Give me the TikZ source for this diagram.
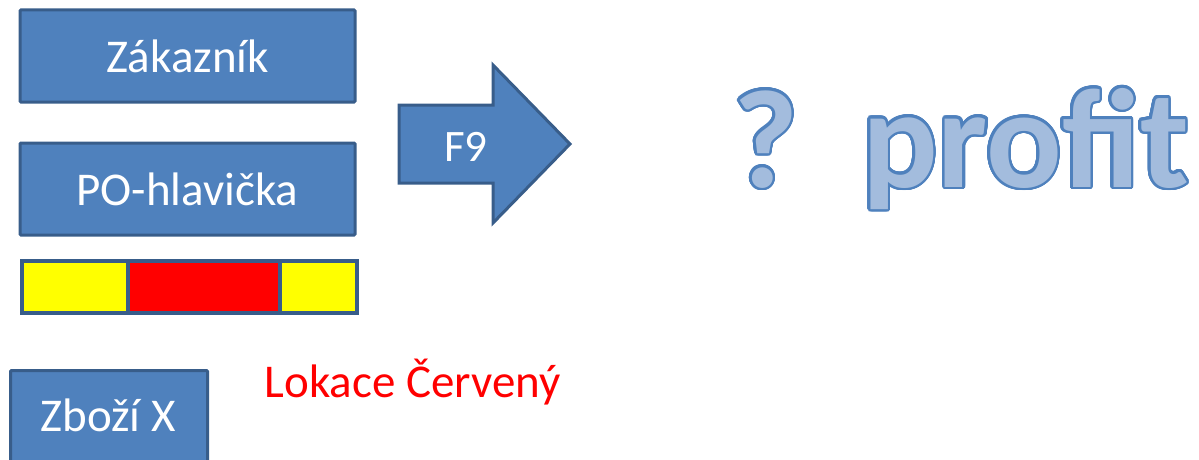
\documentclass[tikz,border=0pt]{standalone}
\usepackage{fontspec}
\usepackage[copies]{contour}
\setmainfont{Carlito}
\definecolor{boxfill}{HTML}{4F81BD}
\definecolor{boxline}{HTML}{385D8A}
\definecolor{lightfill}{HTML}{A3BCDD}
\definecolor{outl}{HTML}{4F81BD}
\definecolor{myyellow}{HTML}{FFFF00}
\definecolor{myred}{HTML}{FF0000}
\contourlength{2.6pt}
\contournumber{32}
\tikzset{
  bluebox/.style={draw=boxline, fill=boxfill, line width=3pt, rounded corners=1pt,
    text=white, font=\fontsize{47}{56}\selectfont, inner sep=0pt},
  barseg/.style={draw=boxline, line width=3.5pt, inner sep=0pt},
  bigword/.style={font=\fontsize{140}{160}\bfseries\selectfont, anchor=base west, inner sep=0pt, text=lightfill},
}
\begin{document}
\begin{tikzpicture}[x=1pt,y=-1pt]
\useasboundingbox (0,0) rectangle (1199,460);
\begin{scope}
\clip (0,0) rectangle (1199,460);
\node[bluebox, minimum width=335pt, minimum height=92pt] (zak) at (187.5,56) {Zákazník};
\node[bluebox, minimum width=335pt, minimum height=92pt] (po) at (187.5,189) {PO-hlavička};
\node[barseg, fill=myyellow, minimum width=106pt, minimum height=52pt, anchor=north west] (y1) at (20,259) {};
\node[barseg, fill=myyellow, minimum width=77pt, minimum height=52pt, anchor=north west] (y2) at (278,259) {};
\node[barseg, fill=myred, minimum width=152pt, minimum height=52pt, anchor=north west] (r1) at (126,259) {};
\node[bluebox, minimum width=197pt, minimum height=110pt, anchor=north west] (zbozi) at (9,369) {};
\node[text=white, font=\fontsize{47}{56}\selectfont] (zbozit) at (108,415) {Zboží X};
\draw[draw=boxline, fill=boxfill, line width=3pt, line join=miter]
  (399,105) -- (493,105) -- (493,65) -- (570,144) -- (493,223) -- (493,183) -- (399,183) -- cycle;
\node[text=white, font=\fontsize{45}{54}\selectfont] (f9) at (466,147) {F9};
\node[text=myred, font=\fontsize{47}{56}\selectfont, anchor=west] (lok) at (261,382) {Lokace Červený};
\node[bigword] (q) at (733,187) {\contour{outl}{?}};
\node[bigword, font=\fontsize{141}{160}\bfseries\selectfont] (profit) at (862,187) {\contour{outl}{profit}};
\end{scope}
\end{tikzpicture}
\end{document}
